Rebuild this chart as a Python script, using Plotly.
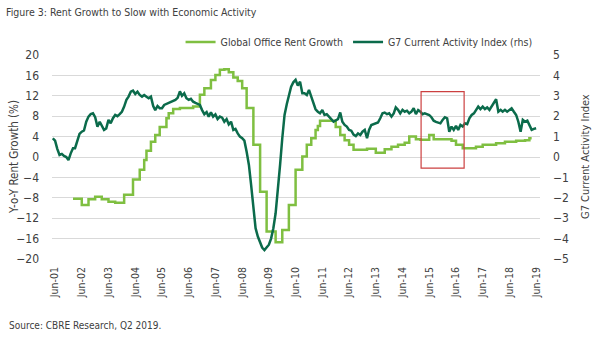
import plotly.graph_objects as go
import pandas as pd

# ---------------- data ----------------
title_text = "Figure 3: Rent Growth to Slow with Economic Activity"
source_text = "Source: CBRE Research, Q2 2019."
left_title = "Y-o-Y Rent Growth (%)"
right_title = "G7 Current Activity Index"
rent_name = "Global Office Rent Growth"
g7_name = "G7 Current Activity Index (rhs)"

# Global office rent growth (%), stepped series: date of each step change and value
rent_dates = [
    "2002-02", "2002-06", "2002-09", "2002-12", "2003-03", "2003-06", "2003-09",
    "2004-01", "2004-05", "2004-08", "2004-10", "2004-11", "2005-01", "2005-03",
    "2005-05", "2005-08", "2005-09", "2005-11", "2006-02", "2006-08", "2006-11",
    "2007-01", "2007-04", "2007-06", "2007-08", "2007-10", "2007-12", "2008-02",
    "2008-04", "2008-06", "2008-08", "2008-11", "2009-02", "2009-05", "2009-09",
    "2009-12", "2010-03", "2010-06", "2010-09", "2010-11", "2011-01", "2011-03",
    "2011-04", "2011-05", "2011-12", "2012-02", "2012-04", "2012-06", "2012-08",
    "2013-02", "2013-06", "2013-10", "2014-01", "2014-04", "2014-07", "2014-09",
    "2014-12", "2015-02", "2015-06", "2015-08", "2016-04", "2016-06", "2016-09",
    "2017-03", "2017-06", "2017-12", "2018-04", "2018-09", "2019-01", "2019-03",
    "2019-04",
]
rent_values = [
    -8.2, -9.4, -8.3, -7.8, -8.3, -8.75, -8.95,
    -7.4, -4.4, -2.5, -0.6, 1.25, 3.0, 4.3,
    5.9, 7.6, 8.6, 9.4, 9.6, 9.9, 12.2,
    13.5, 15.1, 16.1, 17.1, 17.2, 16.6, 15.6,
    14.9, 13.5, 9.6, 2.4, -6.8, -14.6, -16.7,
    -14.3, -9.4, -2.5, 0.1, 2.4, 3.7, 5.3,
    6.1, 7.1, 5.9, 4.3, 3.3, 2.4, 1.4,
    1.6, 0.85, 1.5, 2.0, 2.4, 2.8, 4.0,
    3.5, 3.4, 4.3, 3.5, 3.2, 2.4, 1.7,
    2.0, 2.4, 2.7, 3.0, 3.2, 3.3, 3.7,
    3.7,
]

# G7 Current Activity Index (rhs), monthly from May 2001 to Jun 2019
g7_start = "2001-05-01"
g7_values = [
    # 2001 May-Dec
    0.92, 0.8, 0.4, 0.1, 0.15, 0.05, 0.0, -0.15,
    # 2002
    0.18, 0.43, 0.43, 0.84, 1.13, 1.24, 1.3, 1.73, 1.98, 2.1, 2.14, 1.95,
    # 2003
    1.49, 1.73, 1.57, 1.33, 1.4, 1.82, 1.65, 1.9, 2.06, 2.0, 2.1, 2.22,
    # 2004
    2.47, 2.8, 2.96, 3.2, 3.25, 3.09, 3.2, 3.04, 2.96, 3.04, 2.95, 2.88,
    # 2005
    2.96, 2.5, 2.3, 2.5, 2.39, 2.39, 2.55, 2.6, 2.67, 2.72, 2.76, 2.8,
    # 2006
    2.9, 3.22, 3.0, 3.12, 2.88, 2.8, 2.85, 2.71, 2.65, 2.58, 2.55, 2.3,
    # 2007
    2.1, 2.2, 1.98, 2.19, 1.98, 2.09, 1.86, 1.98, 1.93, 1.73, 1.86, 1.6,
    # 2008
    1.73, 1.33, 1.38, 1.16, 1.0, 0.92, 0.8, 0.26, -0.39, -1.37, -2.51, -3.49,
    # 2009
    -3.9, -4.15, -4.44, -4.56, -4.44, -4.3, -4.0, -3.49, -2.76, -1.7, -0.39, 0.92,
    # 2010
    2.06, 2.6, 2.96, 3.45, 3.66, 3.78, 3.5, 3.69, 3.12, 3.12, 3.04, 3.29,
    # 2011
    2.96, 2.6, 2.34, 2.22, 2.14, 2.3, 2.06, 2.1, 1.95, 1.86, 1.73, 1.81,
    # 2012
    1.86, 2.18, 1.73, 1.57, 1.49, 1.33, 1.29, 1.1, 1.03, 1.16, 1.08, 1.24,
    # 2013
    1.33, 0.92, 1.33, 1.57, 1.61, 1.65, 1.69, 1.9, 2.14, 2.18, 2.1, 2.14,
    # 2014
    1.98, 2.14, 2.43, 2.31, 2.14, 2.31, 2.22, 2.27, 2.14, 2.22, 2.39, 2.1,
    # 2015
    2.3, 2.22, 2.1, 2.14, 2.1, 2.06, 1.95, 1.78, 1.72, 1.69, 1.65, 1.82,
    # 2016
    1.95, 1.9, 1.24, 1.49, 1.33, 1.53, 1.33, 1.57, 1.49, 1.65, 1.61, 1.9,
    # 2017
    2.06, 2.14, 2.31, 2.47, 2.35, 2.47, 2.35, 2.43, 2.31, 2.47, 2.63, 2.83,
    # 2018
    2.22, 2.31, 2.22, 2.31, 2.22, 2.31, 2.39, 2.22, 2.06, 1.73, 1.24, 1.82,
    # 2019 Jan-Jun
    1.73, 1.78, 1.57, 1.33, 1.38, 1.41,
]

# x tick labels (June of each year)
tick_years = list(range(2001, 2020))
tick_dates = [f"{y}-06-01" for y in tick_years]
tick_labels = [f"Jun-{y % 100:02d}" for y in tick_years]

# highlighted period (red box) and its vertical extent in left-axis units
box_x = ["2015-02-10", "2016-09-20"]
box_y = [-2.2, 12.8]

# ---------------- figure ----------------
g7_dates = pd.date_range(g7_start, periods=len(g7_values), freq="MS")
rent_x = [pd.Timestamp(d + "-01") for d in rent_dates]

FONT = "DejaVu Sans Condensed, Liberation Sans Narrow, sans-serif"
TXT = "#404040"
LIGHT = "#7fbf41"
DARK = "#0b6b4b"

fig = go.Figure()
fig.add_trace(go.Scatter(
    x=rent_x, y=rent_values, name=rent_name, mode="lines",
    line=dict(color=LIGHT, width=2.5, shape="hv"), yaxis="y",
))
fig.add_trace(go.Scatter(
    x=g7_dates, y=g7_values, name=g7_name, mode="lines",
    line=dict(color=DARK, width=2.5), yaxis="y2",
))

fig.add_shape(type="rect", xref="x", yref="y",
              x0=box_x[0], x1=box_x[1], y0=box_y[0], y1=box_y[1],
              line=dict(color="#cc4040", width=1.2), fillcolor="rgba(0,0,0,0)")

PW, PH = 488, 204  # plot area size in px (for paper-coordinate text placement)

fig.update_layout(
    width=600, height=347,
    margin=dict(l=52, r=60, t=55, b=88),
    paper_bgcolor="white", plot_bgcolor="white",
    font=dict(family=FONT, color=TXT, size=11),
    showlegend=True,
    legend=dict(orientation="h", x=0.995, xanchor="right", y=1.064, yanchor="middle",
                font=dict(size=10.5, color=TXT), bgcolor="rgba(0,0,0,0)",
                itemwidth=30, tracegroupgap=0),
    xaxis=dict(
        type="date", range=["2001-04-20", "2019-07-24"],
        tickvals=tick_dates, ticktext=tick_labels, tickangle=-90,
        tickfont=dict(size=10.5, color=TXT), showgrid=False, showline=False,
        zeroline=False, ticks="", ticklabelstandoff=5, automargin=False,
    ),
    yaxis=dict(
        range=[-20, 20], dtick=4, tick0=0, showgrid=True, gridcolor="#d9d9d9",
        gridwidth=1, zeroline=False, showline=False, ticks="",
        tickfont=dict(size=12, color=TXT), ticklabelstandoff=12, automargin=False,
    ),
    yaxis2=dict(
        range=[-5, 5], dtick=1, tick0=0, overlaying="y", side="right",
        showgrid=False, zeroline=False, showline=False, ticks="", automargin=False,
        tickfont=dict(size=12, color=TXT), ticklabelstandoff=12,
    ),
    annotations=[
        dict(text=title_text, xref="paper", yref="paper", x=-48 / PW, y=1 + 43 / PH,
             xanchor="left", yanchor="middle", showarrow=False,
             font=dict(size=10.5, color=TXT)),
        dict(text=source_text, xref="paper", yref="paper", x=-45 / PW, y=-66 / PH,
             xanchor="left", yanchor="middle", showarrow=False,
             font=dict(size=10, color=TXT)),
        dict(text=left_title, xref="paper", yref="paper", x=-38 / PW, y=0.5,
             xanchor="center", yanchor="middle", showarrow=False, textangle=-90,
             font=dict(size=11.5, color=TXT)),
        dict(text=right_title, xref="paper", yref="paper", x=1 + 45 / PW, y=0.5,
             xanchor="center", yanchor="middle", showarrow=False, textangle=-90,
             font=dict(size=11, color=TXT)),
    ],
)

fig.write_html("out.html")
